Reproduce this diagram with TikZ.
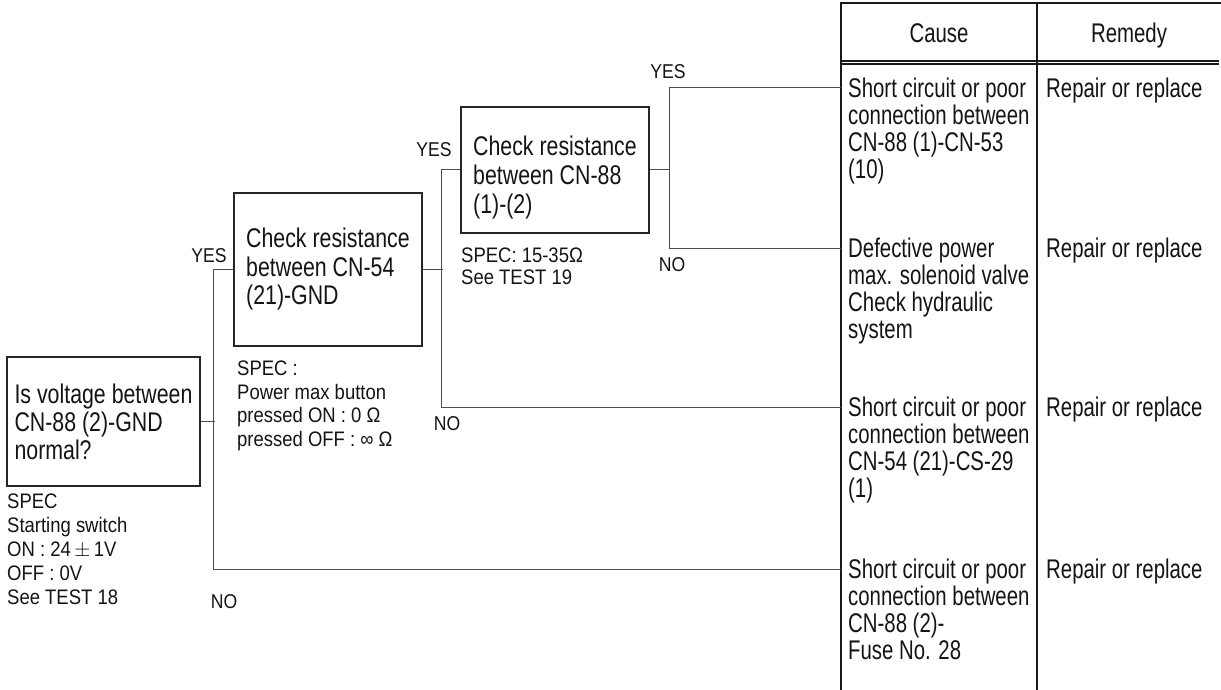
\documentclass[tikz,border=0pt]{standalone}
\usepackage{fontspec}
\setmainfont{Liberation Sans}[FakeStretch=0.79]
\newfontfamily\tabfont{Liberation Sans}[FakeStretch=0.755]
\newfontfamily\smallfont{Liberation Sans}[FakeStretch=0.88]
\newcommand{\bigsz}{\fontsize{27}{28}\selectfont}
\newcommand{\tabsz}{\tabfont\fontsize{27}{27}\selectfont}
\newcommand{\lblsz}{\smallfont\fontsize{20}{22}\selectfont}
\begin{document}
\begin{tikzpicture}[x=1pt,y=-1pt,
  box/.style={draw=black!85, line width=1.3pt, align=left, inner sep=0pt, font=\bigsz, text=black!92},
  conn/.style={draw=black!70, line width=1pt},
  tabline/.style={draw=black!90, line width=1.2pt},
  celltext/.style={anchor=north west, align=left, inner sep=0pt, font=\tabsz, text=black!92},
  lbl/.style={inner sep=0pt, font=\lblsz, text=black!92},
  head/.style={anchor=base, inner sep=0pt, font=\tabsz, text=black!92},
  spec/.style={anchor=north west, align=left, inner sep=0pt, text=black!92}
]
\useasboundingbox (0,0) rectangle (1221,690);

% table
\draw[tabline] (841,690) -- (841,3) -- (1221,3);
\draw[tabline] (1037,3) -- (1037,690);
\draw[tabline] (841,61) -- (1219,61);
\draw[tabline] (841,64) -- (1219,64);
\node[head] (hcause) at (939,43) {Cause};
\node[head] (hrem) at (1129,43) {Remedy};

\coordinate (t1) at (841,88);
\coordinate (t2) at (841,248);
\coordinate (t3) at (841,407);
\coordinate (t4) at (841,569);

\node[celltext] (c1) at (848,78) {Short circuit or poor\\connection between\\CN-88 (1)-CN-53\\(10)};
\node[celltext] (c2) at (848,238) {Defective power\\max. solenoid valve\\Check hydraulic\\system};
\node[celltext] (c3) at (848,397) {Short circuit or poor\\connection between\\CN-54 (21)-CS-29\\(1)};
\node[celltext] (c4) at (848,559) {Short circuit or poor\\connection between\\CN-88 (2)-\\Fuse No. 28};
\node[celltext] (r1) at (1046,78) {Repair or replace};
\node[celltext] (r2) at (1046,238) {Repair or replace};
\node[celltext] (r3) at (1046,397) {Repair or replace};
\node[celltext] (r4) at (1046,559) {Repair or replace};

% boxes
\node[box, minimum width=193pt, minimum height=129pt] (b1) at (103.5,421.5) {Is voltage between\\CN-88 (2)-GND\\normal?};
\node[box, minimum width=188pt, minimum height=153pt, font=\fontsize{27}{28.5}\selectfont] (b2) at (328,269.5) {Check resistance\\between CN-54\\(21)-GND};
\node[box, minimum width=188pt, minimum height=126pt, font=\fontsize{27}{29}\selectfont] (b3) at (555,170) {\rule{0pt}{34pt}Check resistance\\between CN-88\\(1)-(2)};

% spec texts
\node[spec, font=\smallfont\fontsize{21}{24}\selectfont] (s1) at (7,494) {SPEC\\Starting switch\\ON : 24$\,\pm\,$1V\\OFF : 0V\\See TEST 18};
\node[spec, font=\smallfont\fontsize{21}{23.5}\selectfont] (s2) at (237,361) {SPEC :\\Power max button\\pressed ON : 0 Ω\\pressed OFF : ∞ Ω};
\node[spec, font=\smallfont\fontsize{21}{21.5}\selectfont] (s3) at (461,248) {SPEC: 15-35Ω\\See TEST 19};

% connectors
\draw[conn] (b1.east) -- ++(14,0);
\draw[conn] (b2.west) -- ++(-20,0) |- (t4);
\draw[conn] (b2.east) -- ++(20,0);
\draw[conn] (b3.west) -- ++(-19,0) |- (t3);
\draw[conn] (b3.east) -- ++(20,0);
\draw[conn] (t1) -- ++(-172,0) |- (t2);

% labels
\node[lbl] (yes1) at (209,256) {YES};
\node[lbl] (yes2) at (434,150) {YES};
\node[lbl] (yes3) at (668,72) {YES};
\node[lbl] (no1) at (672,265) {NO};
\node[lbl] (no2) at (447,424) {NO};
\node[lbl] (no3) at (224,602) {NO};
\end{tikzpicture}
\end{document}
